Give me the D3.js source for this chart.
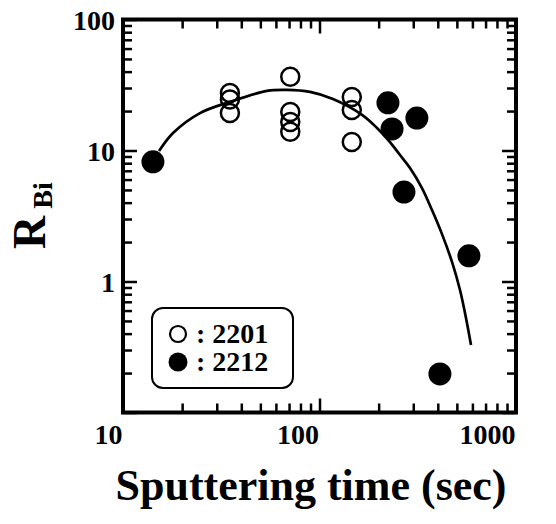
<!DOCTYPE html>
<html>
<head>
<meta charset="utf-8">
<script src="https://cdnjs.cloudflare.com/ajax/libs/d3/7.8.5/d3.min.js"></script>
<style>
body { margin: 0; background: #fff; }
svg text { font-family: "Liberation Serif", "Times New Roman", serif; font-weight: bold; fill: #000; }
</style>
</head>
<body>
<svg id="chart" width="556" height="524"></svg>
<script>
// sputtering time (sec) vs R_Bi, two samples
var time2201 = [35, 35, 35, 71, 71, 71, 71, 146, 146, 146]
var rbi2201 = [27.5, 24.5, 19.3, 36.5, 19.7, 16.5, 13.9, 25.6, 20.4, 11.6]

var time2212 = [14.2, 223, 234, 313, 269, 576, 410]
var rbi2212 = [8.2, 23.1, 14.6, 17.7, 4.82, 1.57, 0.197]

// guide curve, points
var fitTime = [15.25, 17.97, 24.65, 35.0, 54.1, 68.3, 89.5, 117.1, 164.6, 196.2, 228.5, 256.9, 288.8, 332.3, 373.7, 420.2, 472.4, 518.8, 556.5, 590.2]
var fitRbi = [9.9, 13.6, 19.3, 23.5, 28.5, 29.0, 28.0, 24.7, 18.7, 14.85, 11.6, 9.24, 7.35, 5.17, 3.51, 2.30, 1.41, 0.861, 0.527, 0.328]

var xTickLabels = ["10", "100", "1000"]
var yTickLabels = ["", "1", "10", "100"]
var legendLabels = [": 2201", ": 2212"]
var xTitle = "Sputtering time (sec)"

var svg = d3.select("#chart")

var x = d3.scaleLog().domain([10, 1000]).range([123, 516])
var y = d3.scaleLog().domain([0.1, 100]).range([412.5, 19.5])

var isDecade = function(d){ return Math.abs(Math.log10(d) - Math.round(Math.log10(d))) < 1e-6 }
var xMajor = x.ticks().filter(isDecade)
var xMinor = x.ticks().filter(function(d){ return !isDecade(d) })
var yMajor = y.ticks().filter(isDecade)
var yMinor = y.ticks().filter(function(d){ return !isDecade(d) })

var majorLen = 14, minorLen = 9

//ticks on all four sides, pointing inward
function drawAxis(axisFn, scale, transform, major, minor, labels){
  var gMinor = svg.append("g").attr("transform", transform)
    .call(axisFn(scale).tickValues(minor).tickSize(-minorLen).tickFormat(""))
  var gMajor = svg.append("g").attr("transform", transform)
    .call(axisFn(scale).tickValues(major).tickSize(-majorLen).tickPadding(8)
      .tickFormat(function(d, i){ return labels ? labels[i] : "" }))
  ;[gMinor, gMajor].forEach(function(g){
    g.select(".domain").remove()
    g.attr("font-family", null).attr("font-size", null)
    g.selectAll(".tick line").attr("stroke-width", 2.5)
  })
  return gMajor
}

var left = drawAxis(d3.axisLeft, y, "translate(123,0)", yMajor, yMinor, yTickLabels)
left.selectAll("text").attr("font-size", 28).attr("dy", "0.34em").attr("x", -8)

var bottom = drawAxis(d3.axisBottom, x, "translate(0,412.5)", xMajor, xMinor, xTickLabels)
bottom.selectAll("text").attr("font-size", 28).attr("text-anchor", "end")
  .attr("dy", null).attr("y", 31).attr("x", -1)

drawAxis(d3.axisRight, y, "translate(516,0)", yMajor, yMinor, null)
drawAxis(d3.axisTop, x, "translate(0,19.5)", xMajor, xMinor, null)

//frame
svg.append("rect")
  .attr("x", x.range()[0]).attr("y", y.range()[1])
  .attr("width", x.range()[1] - x.range()[0])
  .attr("height", y.range()[0] - y.range()[1])
  .attr("fill", "none").attr("stroke", "#000").attr("stroke-width", 4)

//curve
var line = d3.line()
  .x(function(d){ return x(d[0]) })
  .y(function(d){ return y(d[1]) })
  .curve(d3.curveCatmullRom)

svg.append("path")
  .datum(d3.zip(fitTime, fitRbi))
  .attr("d", line)
  .attr("fill", "none").attr("stroke", "#000").attr("stroke-width", 2.7)

//points
svg.append("g").selectAll("circle")
  .data(d3.zip(time2201, rbi2201))
  .enter().append("circle")
  .attr("cx", function(d){ return x(d[0]) })
  .attr("cy", function(d){ return y(d[1]) })
  .attr("r", 9)
  .attr("fill", "none").attr("stroke", "#000").attr("stroke-width", 2.5)

svg.append("g").selectAll("circle")
  .data(d3.zip(time2212, rbi2212))
  .enter().append("circle")
  .attr("cx", function(d){ return x(d[0]) })
  .attr("cy", function(d){ return y(d[1]) })
  .attr("r", 11.5)
  .attr("fill", "#000")

//legend
var legend = svg.append("g").attr("transform", "translate(152,308)")
legend.append("rect")
  .attr("width", 141).attr("height", 80).attr("rx", 11)
  .attr("fill", "none").attr("stroke", "#000").attr("stroke-width", 2)

var item = legend.selectAll("g.item")
  .data(legendLabels)
  .enter().append("g")
  .attr("class", "item")
  .attr("transform", function(d, i){ return "translate(0," + (26 + i * 28) + ")" })

item.append("circle")
  .attr("cx", 26).attr("r", function(d, i){ return i == 0 ? 8 : 9.5 })
  .attr("fill", function(d, i){ return i == 0 ? "none" : "#000" })
  .attr("stroke", "#000").attr("stroke-width", function(d, i){ return i == 0 ? 2.2 : 0 })

item.append("text")
  .attr("x", 44).attr("y", 9)
  .attr("font-size", 28)
  .text(function(d){ return d })

//axis titles
svg.append("text")
  .attr("x", 311).attr("y", 500)
  .attr("text-anchor", "middle")
  .attr("font-size", 44)
  .text(xTitle)

var yTitle = svg.append("text")
  .attr("transform", "translate(45,249) rotate(-90)")
  .attr("font-size", 46)
yTitle.append("tspan").text("R")
yTitle.append("tspan").attr("font-size", 28).attr("dy", 7).text(" Bi")
</script>
</body>
</html>
